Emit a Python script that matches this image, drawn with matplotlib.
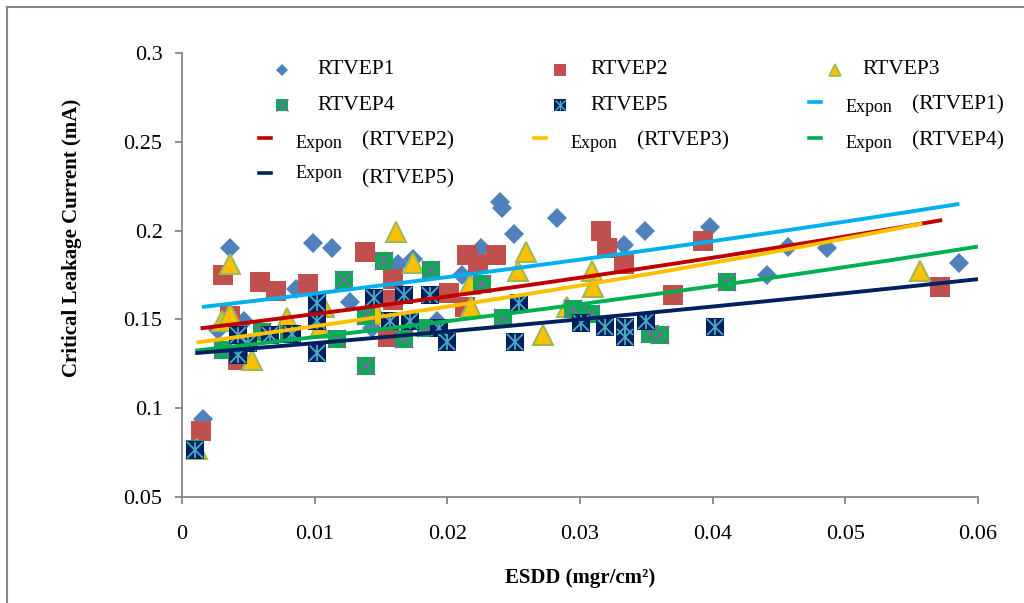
import numpy as np
import matplotlib
matplotlib.use("Agg")
from matplotlib import pyplot as plt
from matplotlib.lines import Line2D
from matplotlib.ticker import FuncFormatter

plt.rcParams["font.family"] = ["Liberation Serif", "DejaVu Serif"]

# ESDD (mgr/cm2) vs critical leakage current (mA)
rtvep1_x = [0.0016, 0.0027, 0.0036, 0.0047, 0.0086, 0.0099, 0.0113, 0.0127, 0.0143,
            0.0163, 0.0174, 0.0192, 0.0211, 0.0225, 0.0240, 0.0241, 0.0250, 0.0283,
            0.0333, 0.0349, 0.0398, 0.0441, 0.0457, 0.0486, 0.0586]
rtvep1_y = [0.094, 0.144, 0.190, 0.149, 0.167, 0.193, 0.190, 0.160, 0.145,
            0.181, 0.184, 0.149, 0.175, 0.190, 0.216, 0.213, 0.198, 0.207,
            0.192, 0.200, 0.202, 0.175, 0.191, 0.190, 0.182]

rtvep2_x = [0.0014, 0.0031, 0.0036, 0.0042, 0.0059, 0.0071, 0.0095, 0.0138, 0.0155,
            0.0159, 0.0159, 0.0201, 0.0213, 0.0215, 0.0223, 0.0237, 0.0316, 0.0320,
            0.0333, 0.0370, 0.0393, 0.0571]
rtvep2_y = [0.087, 0.175, 0.152, 0.127, 0.171, 0.166, 0.170, 0.188, 0.140,
            0.161, 0.173, 0.165, 0.157, 0.186, 0.181, 0.186, 0.200, 0.190,
            0.181, 0.164, 0.194, 0.168]

rtvep3_x = [0.0011, 0.0030, 0.0036, 0.0036, 0.0053, 0.0079, 0.0104, 0.0107, 0.0147,
            0.0161, 0.0174, 0.0217, 0.0218, 0.0253, 0.0259, 0.0272, 0.0290, 0.0309,
            0.0310, 0.0556]
rtvep3_y = [0.077, 0.149, 0.181, 0.153, 0.127, 0.151, 0.145, 0.157, 0.153,
            0.199, 0.182, 0.170, 0.157, 0.177, 0.188, 0.141, 0.157, 0.177,
            0.168, 0.177]

rtvep4_x = [0.0010, 0.0031, 0.0060, 0.0081, 0.0117, 0.0122, 0.0139, 0.0139, 0.0152,
            0.0167, 0.0184, 0.0188, 0.0226, 0.0242, 0.0295, 0.0308, 0.0353, 0.0360,
            0.0411]
rtvep4_y = [0.077, 0.133, 0.143, 0.142, 0.139, 0.172, 0.124, 0.152, 0.183,
            0.139, 0.145, 0.178, 0.170, 0.151, 0.156, 0.153, 0.142, 0.141,
            0.171]

rtvep5_x = [0.0010, 0.0042, 0.0042, 0.0050, 0.0066, 0.0083, 0.0102, 0.0102, 0.0102,
            0.0145, 0.0157, 0.0167, 0.0172, 0.0187, 0.0194, 0.0200, 0.0251, 0.0254,
            0.0301, 0.0319, 0.0334, 0.0334, 0.0350, 0.0402]
rtvep5_y = [0.0765, 0.141, 0.130, 0.1365, 0.141, 0.142, 0.159, 0.149, 0.131,
            0.162, 0.149, 0.164, 0.149, 0.164, 0.145, 0.1375, 0.1375, 0.159,
            0.148, 0.146, 0.146, 0.140, 0.149, 0.146]

# exponential trendlines y = a * exp(b * x), as drawn in the picture
trend_names = ["RTVEP1", "RTVEP2", "RTVEP3", "RTVEP4", "RTVEP5"]
trend_a = [0.1557, 0.1437, 0.1359, 0.1316, 0.1304]
trend_b = [5.51, 6.28, 7.28, 6.21, 4.68]
trend_x_start = [0.0015, 0.0014, 0.0011, 0.0010, 0.0010]
trend_x_end = [0.0586, 0.0573, 0.0558, 0.0600, 0.0600]
trend_colors = ["#00B0F0", "#C00000", "#FFC000", "#00B050", "#002060"]

W, H = 1024, 603


def fx(px):
    return px / W


def fy(py):
    return 1 - py / H


fig = plt.figure(figsize=(W / 100, H / 100), dpi=100)
ax = fig.add_axes([fx(182), fy(497), (978 - 182) / W, (497 - 53) / H])

# outer chart border (only top and left edge fall inside the picture)
fig.add_artist(Line2D([fx(7), 1.0], [fy(7), fy(7)], color="#868686", lw=1.5, transform=fig.transFigure))
fig.add_artist(Line2D([fx(7), fx(7)], [fy(7), 0.0], color="#868686", lw=1.5, transform=fig.transFigure))

# scatter series
ax.plot(rtvep1_x, rtvep1_y, ls="none", marker="D", ms=10, color="#4F81BD", mew=0, zorder=2)
ax.plot(rtvep2_x, rtvep2_y, ls="none", marker="s", ms=14, color="#C0504D", mew=0, zorder=3)
ax.plot(rtvep3_x, rtvep3_y, ls="none", marker="^", ms=14, mfc="#FFC000", mec="#9BBB59", mew=1.5, zorder=4)
ax.plot(rtvep4_x, rtvep4_y, ls="none", marker="s", ms=13, color="#00B050", mew=0, zorder=5)
ax.plot(rtvep4_x, rtvep4_y, ls="none", marker="x", ms=13, color="#8064A2", mew=1.3, zorder=5.1)
ax.plot(rtvep5_x, rtvep5_y, ls="none", marker="s", ms=13, color="#002060", mew=0, zorder=6)
ax.plot(rtvep5_x, rtvep5_y, ls="none", marker="x", ms=12, color="#4BACC6", mew=1.3, zorder=6.1)
ax.plot(rtvep5_x, rtvep5_y, ls="none", marker="|", ms=12, color="#4BACC6", mew=1.3, zorder=6.1)

# trendlines on top
for a, b, x0, x1, c in zip(trend_a, trend_b, trend_x_start, trend_x_end, trend_colors):
    xs = np.linspace(x0, x1, 100)
    ax.plot(xs, a * np.exp(b * xs), color=c, lw=2.8, zorder=8, solid_capstyle="butt")

ax.set_xlim(0, 0.06)
ax.set_ylim(0.05, 0.3)
ax.set_xticks(np.arange(0, 0.0601, 0.01))
ax.set_yticks(np.arange(0.05, 0.3001, 0.05))
fmt = FuncFormatter(lambda v, p: "%g" % round(v, 4))
ax.xaxis.set_major_formatter(fmt)
ax.yaxis.set_major_formatter(fmt)
for side in ["top", "right"]:
    ax.spines[side].set_visible(False)
for side in ["left", "bottom"]:
    ax.spines[side].set_color("#868686")
    ax.spines[side].set_linewidth(1.3)
ax.tick_params(axis="both", direction="out", length=5, width=1.3, color="#868686", labelsize=16)
ax.tick_params(axis="y", pad=9)
ax.tick_params(axis="x", pad=15)

fig.text(fx(580), fy(578), "ESDD (mgr/cm²)", ha="center", va="center", fontsize=15, fontweight="bold")
fig.text(fx(72), fy(238), "Critical Leakage Current (mA)", ha="center", va="center",
         rotation=90, fontsize=15, fontweight="bold")

# legend, laid out like the original (3 columns)
def leg_marker(px, py, **kw):
    fig.add_artist(Line2D([fx(px)], [fy(py)], ls="none", transform=fig.transFigure, **kw))


def leg_line(px, py, color):
    fig.add_artist(Line2D([fx(px - 6), fx(px + 6)], [fy(py), fy(py)], color=color, lw=2.6,
                          transform=fig.transFigure))


def leg_text(px, py, s, size=15.5):
    fig.text(fx(px), fy(py), s, ha="left", va="center", fontsize=size)


leg_marker(282, 70, marker="D", ms=6, color="#4F81BD", mew=0)
leg_text(317, 70, "RTVEP1")
leg_marker(560, 70, marker="s", ms=8, color="#C0504D", mew=0)
leg_text(590, 70, "RTVEP2")
leg_marker(835, 70, marker="^", ms=9, mfc="#FFC000", mec="#9BBB59", mew=1.2)
leg_text(862, 70, "RTVEP3")

leg_marker(282, 105, marker="s", ms=8, color="#00B050", mew=0)
leg_marker(282, 105, marker="x", ms=8, color="#8064A2", mew=1)
leg_text(317, 105, "RTVEP4")
leg_marker(560, 105, marker="s", ms=8, color="#002060", mew=0)
leg_marker(560, 105, marker="x", ms=7, color="#4BACC6", mew=1)
leg_marker(560, 105, marker="|", ms=7, color="#4BACC6", mew=1)
leg_text(590, 105, "RTVEP5")

expon_slots = [(815, 105), (265, 141), (540, 141), (815, 141), (265, 176)]
for (px, py), name, c in zip(expon_slots, trend_names, trend_colors):
    leg_line(px, py - 3, c)
    dy = 3 if py < 170 else -3
    leg_text(px + 31, py + dy, "Expon", size=13)
    leg_text(px + 97, py + (0 if py < 170 else 3), "(" + name + ")")

fig.savefig("out.png", dpi=100)
